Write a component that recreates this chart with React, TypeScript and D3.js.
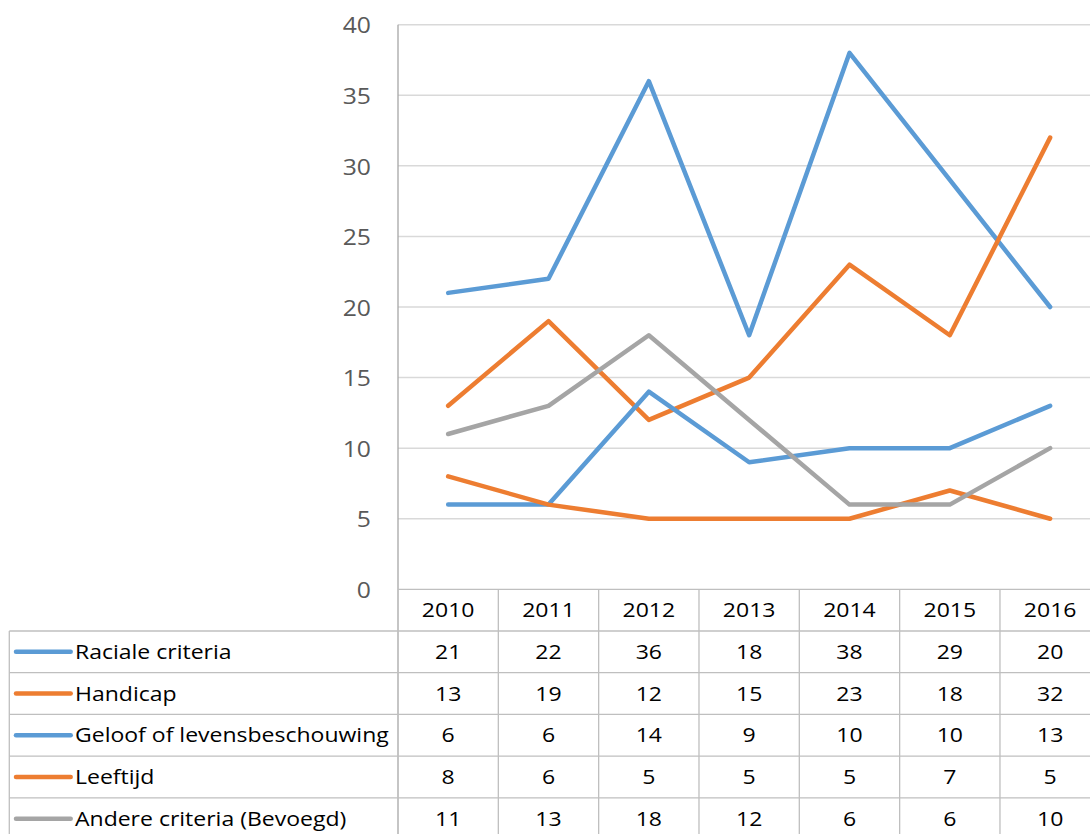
import React from "react";
import * as d3 from "d3";

const years = ["2010", "2011", "2012", "2013", "2014", "2015", "2016"];
const seriesNames = [
  "Raciale criteria",
  "Handicap",
  "Geloof of levensbeschouwing",
  "Leeftijd",
  "Andere criteria (Bevoegd)",
];
const raciale = [21, 22, 36, 18, 38, 29, 20];
const handicap = [13, 19, 12, 15, 23, 18, 32];
const geloof = [6, 6, 14, 9, 10, 10, 13];
const leeftijd = [8, 6, 5, 5, 5, 7, 5];
const andere = [11, 13, 18, 12, 6, 6, 10];
const seriesValues = [raciale, handicap, geloof, leeftijd, andere];
const seriesColors = ["#5B9BD5", "#ED7D31", "#5B9BD5", "#ED7D31", "#A5A5A5"];
const yTicks = [0, 5, 10, 15, 20, 25, 30, 35, 40];

const W = 1090;
const H = 834;
const plotLeft = 398;
const plotRight = 1100.3;
const plotTop = 24.7;
const plotBottom = 589.3;
const tableLeft = 9.3;
const rowH = 41.7;
const headerBottom = 631;
const FONT = "'Open Sans', 'Noto Sans', sans-serif";
const border = "#BFBFBF";

function T(props: {
  x: number;
  y: number;
  anchor?: "start" | "middle" | "end";
  size: number;
  sx: number;
  fill: string;
  children: React.ReactNode;
}) {
  return (
    <text
      transform={`translate(${props.x},${props.y}) scale(${props.sx},1)`}
      x={0}
      y={0}
      dy="0.36em"
      textAnchor={props.anchor || "start"}
      fontSize={props.size}
      fill={props.fill}
    >
      {props.children}
    </text>
  );
}

export default function App() {
  const x = d3.scaleBand<string>().domain(years).range([plotLeft, plotRight]).padding(0);
  const y = d3.scaleLinear().domain([0, 40]).range([plotBottom, plotTop]);
  const cx = (yr: string) => (x(yr) as number) + x.bandwidth() / 2;
  const line = d3
    .line<number>()
    .x((_, i) => cx(years[i]))
    .y((v) => y(v));

  const rowTop = (i: number) => headerBottom + i * rowH;

  return (
    <svg
      width={W}
      height={H}
      style={{ position: "absolute", left: 0, top: 0, background: "#fff" }}
      fontFamily={FONT}
    >
      <rect x={0} y={0} width={W} height={H} fill="#fff" />
      {yTicks.filter((t) => t > 0).map((t) => (
        <line key={t} x1={plotLeft} x2={plotRight} y1={y(t)} y2={y(t)} stroke="#D9D9D9" strokeWidth={1.5} />
      ))}
      {yTicks.map((t) => (
        <T key={t} x={371} y={y(t) + 1} anchor="end" size={21.5} sx={1.15} fill="#595959">
          {t}
        </T>
      ))}
      <line x1={plotLeft} x2={plotLeft} y1={plotTop} y2={H} stroke="#A6A6A6" strokeWidth={1.3} />
      <line x1={plotLeft} x2={plotRight} y1={plotBottom} y2={plotBottom} stroke={border} strokeWidth={1.3} />
      {years.map((yr) => (
        <line
          key={yr}
          x1={(x(yr) as number) + x.bandwidth()}
          x2={(x(yr) as number) + x.bandwidth()}
          y1={plotBottom}
          y2={H}
          stroke={border}
          strokeWidth={1.3}
        />
      ))}
      <line x1={tableLeft} x2={tableLeft} y1={headerBottom} y2={H} stroke={border} strokeWidth={1.3} />
      {seriesNames.map((_, i) => (
        <line key={i} x1={tableLeft} x2={plotRight} y1={rowTop(i)} y2={rowTop(i)} stroke={border} strokeWidth={1.3} />
      ))}
      {years.map((yr) => (
        <T key={yr} x={cx(yr)} y={(plotBottom + headerBottom) / 2} anchor="middle" size={19.5} sx={1.18} fill="#000">
          {yr}
        </T>
      ))}
      {seriesNames.map((name, i) => {
        const mid = rowTop(i) + rowH / 2;
        return (
          <g key={name}>
            <line x1={16} x2={70.7} y1={mid} y2={mid} stroke={seriesColors[i]} strokeWidth={4.5} strokeLinecap="round" />
            <T x={75} y={mid} size={19.5} sx={1.18} fill="#000">
              {name}
            </T>
            {seriesValues[i].map((v, j) => (
              <T key={j} x={cx(years[j])} y={mid} anchor="middle" size={19.5} sx={1.18} fill="#000">
                {v}
              </T>
            ))}
          </g>
        );
      })}
      {seriesValues.map((vals, i) => (
        <path
          key={i}
          d={line(vals) as string}
          fill="none"
          stroke={seriesColors[i]}
          strokeWidth={4.5}
          strokeLinecap="round"
          strokeLinejoin="round"
        />
      ))}
    </svg>
  );
}
